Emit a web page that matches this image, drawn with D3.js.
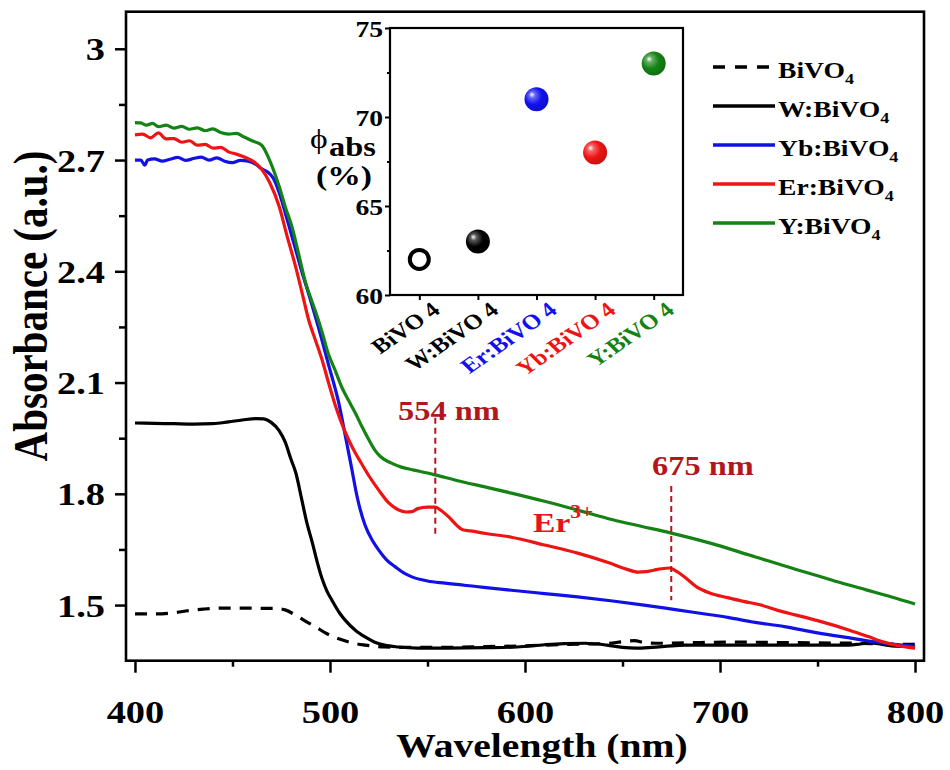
<!DOCTYPE html>
<html>
<head>
<meta charset="utf-8">
<script src="https://cdn.jsdelivr.net/npm/d3@7"></script>
<style>
  html, body { margin: 0; padding: 0; background: #fff; }
  svg { display: block; }
  text { font-family: "Liberation Serif", "Times New Roman", serif; font-weight: bold; fill: #000; }
</style>
</head>
<body>
<svg id="chart" width="950" height="770"></svg>
<script>
// ---------- UV-vis absorbance spectra: [wavelength (nm), absorbance (a.u.)] ----------
const absBiVO4 = [[400,1.476],[410,1.476],[418,1.478],[426,1.484],[435,1.489],[445,1.492],[455,1.492],[465,1.491],[472,1.491],[477,1.487],[482,1.474],[488,1.455],[493,1.440],[498,1.424],[503,1.412],[508,1.403],[513,1.396],[518,1.392],[528,1.387],[540,1.386],[560,1.386],[580,1.388],[600,1.390],[620,1.394],[640,1.396],[650,1.401],[656,1.404],[662,1.398],[670,1.397],[690,1.399],[710,1.400],[730,1.399],[750,1.398],[770,1.397],[785,1.395],[800,1.394]];

const absW = [[400,1.991],[410,1.990],[420,1.989],[430,1.988],[440,1.989],[448,1.994],[455,1.999],[462,2.003],[466,2.002],[470,1.992],[474,1.970],[477,1.940],[480,1.893],[482.5,1.856],[485.5,1.785],[488,1.725],[491,1.667],[493.5,1.615],[496,1.570],[498.5,1.537],[501,1.513],[505,1.478],[508,1.458],[513,1.432],[518,1.414],[523,1.400],[528,1.392],[535,1.387],[545,1.384],[560,1.384],[580,1.385],[596,1.387],[610,1.393],[620,1.396],[631,1.397],[642,1.392],[650,1.386],[657,1.384],[665,1.386],[675,1.390],[682,1.392],[700,1.392],[720,1.392],[745,1.392],[766,1.392],[772,1.395],[777,1.398],[783,1.394],[790,1.389],[800,1.388]];

const absYb = [[400,2.700],[403,2.700],[405,2.686],[406.5,2.700],[410,2.703],[414,2.697],[418,2.702],[422,2.707],[426,2.699],[430,2.704],[434,2.708],[438,2.700],[442,2.706],[446,2.697],[450,2.693],[454,2.699],[458,2.697],[462,2.688],[465,2.676],[468,2.668],[471,2.650],[474,2.611],[478,2.540],[482,2.466],[485.5,2.400],[489,2.340],[494,2.250],[499,2.153],[504.5,2.045],[508,1.953],[511,1.872],[514,1.790],[518,1.715],[522,1.672],[525,1.648],[529,1.622],[533.5,1.603],[538,1.586],[542,1.576],[550,1.565],[559,1.559],[575,1.550],[593,1.540],[610,1.531],[627,1.522],[645,1.511],[661,1.500],[678,1.487],[695,1.474],[704,1.467],[716,1.455],[733,1.442],[750,1.425],[767,1.411],[784,1.397],[792,1.393],[800,1.389]];

const absEr = [[400,2.768],[404,2.770],[408,2.760],[412,2.773],[416,2.757],[420,2.758],[424,2.748],[428,2.752],[432,2.740],[436,2.742],[440,2.732],[444,2.734],[448,2.722],[452,2.716],[457,2.706],[461,2.695],[465,2.675],[469,2.640],[474,2.574],[478,2.495],[482.5,2.410],[486,2.335],[489,2.270],[492.5,2.215],[496,2.160],[499.5,2.095],[503,2.034],[506,1.990],[509.6,1.945],[513,1.910],[516,1.883],[520,1.848],[525,1.810],[530,1.776],[535,1.757],[539,1.751],[542,1.752],[545,1.760],[550,1.764],[554,1.764],[557,1.755],[561,1.737],[565,1.715],[568,1.703],[572,1.700],[580,1.693],[593,1.683],[610,1.662],[627,1.640],[643,1.614],[652,1.597],[658,1.589],[662,1.590],[666,1.594],[670,1.598],[674,1.600],[678,1.590],[682,1.575],[688,1.549],[695,1.532],[704,1.520],[712,1.510],[721,1.500],[730,1.485],[739,1.473],[750,1.458],[766,1.433],[776,1.415],[784,1.400],[792,1.390],[800,1.384]];

const absY = [[400,2.801],[403,2.800],[406,2.794],[409,2.799],[412,2.790],[416,2.794],[420,2.786],[424,2.791],[428,2.783],[432,2.787],[436,2.779],[440,2.784],[444,2.774],[448,2.770],[452,2.772],[456,2.762],[460,2.752],[465,2.740],[469,2.700],[474,2.628],[477,2.575],[480.5,2.520],[484,2.445],[487.5,2.369],[490,2.330],[492.8,2.288],[496,2.235],[499,2.180],[502.5,2.135],[506,2.088],[509.5,2.052],[513,2.018],[516.5,1.980],[520,1.945],[523,1.918],[526,1.900],[531,1.884],[536.6,1.872],[543,1.864],[550,1.856],[554,1.851],[565,1.836],[580,1.818],[593,1.802],[610,1.780],[627,1.756],[645,1.730],[660,1.712],[675,1.694],[695,1.667],[715,1.635],[739,1.596],[750,1.579],[762,1.560],[775,1.541],[788,1.522],[800,1.503]];

const seriesNames  = ["BiVO4", "W:BiVO4", "Yb:BiVO4", "Er:BiVO4", "Y:BiVO4"];
const seriesData   = [absBiVO4, absW, absYb, absEr, absY];
const seriesColors = ["#000000", "#000000", "#1111e6", "#ee1414", "#148214"];
const seriesDashed = [true, false, false, false, false];
const drawOrder    = [1, 0, 2, 3, 4];

const xTicks = [400, 500, 600, 700, 800];
const xMinorTicks = [450, 550, 650, 750];
const yTicks = [1.5, 1.8, 2.1, 2.4, 2.7, 3.0];
const yMinorTicks = [1.65, 1.95, 2.25, 2.55, 2.85];

// Er3+ absorption peak markers: wavelength, label, dashed line extent (absorbance)
const peakWavelengths = [554, 675];
const peakLabels = ["554 nm", "675 nm"];
const peakLineTop = [2.005, 1.821];
const peakLineBottom = [1.689, 1.513];

// ---------- inset: absorbed photon fraction ----------
const insetCategories = ["BiVO4", "W:BiVO4", "Er:BiVO4", "Yb:BiVO4", "Y:BiVO4"];
const phiAbs = [62, 63, 71, 68, 73];
const insetColors = ["#000000", "#000000", "#1111f0", "#ee1414", "#148214"];
const insetHollow = [true, false, false, false, false];
const insetYTicks = [60, 65, 70, 75];
const insetYMinor = [62.5, 67.5, 72.5];

// ---------- layout ----------
const SX = 1.2; // horizontal glyph stretch used for all labels
const svg = d3.select("#chart");
const plot = { left: 126, right: 924, top: 11.7, bottom: 660.7 };
const inset = { left: 390, right: 683, top: 28, bottom: 295 };

const x = d3.scaleLinear().domain([395.4, 804.6]).range([plot.left, plot.right]);
const y = d3.scaleLinear().domain([1.35, 3.1]).range([plot.bottom, plot.top]);

function place(sel, px, py, rot) {
  sel.attr("transform", `translate(${px},${py}) scale(${SX},1)` + (rot ? ` rotate(${rot})` : ""));
  return sel;
}

// clip for the spectra
svg.append("defs").append("clipPath").attr("id", "plotClip")
  .append("rect").attr("x", plot.left).attr("y", plot.top)
  .attr("width", plot.right - plot.left).attr("height", plot.bottom - plot.top);

// ---------- spectra ----------
const line = d3.line().x(d => x(d[0])).y(d => y(d[1])).curve(d3.curveMonotoneX);
const curves = svg.append("g").attr("clip-path", "url(#plotClip)");
drawOrder.forEach(i => {
  curves.append("path")
    .datum(seriesData[i])
    .attr("d", line)
    .attr("fill", "none")
    .attr("stroke", seriesColors[i])
    .attr("stroke-width", 3.2)
    .attr("stroke-linejoin", "round")
    .attr("stroke-dasharray", seriesDashed[i] ? "12,9" : null);
});

// ---------- axes ----------
const xAxis = svg.append("g").attr("transform", `translate(0,${plot.bottom})`)
  .call(d3.axisBottom(x).tickValues(xTicks).tickSize(12).tickFormat(d3.format("d")));
xAxis.select(".domain").remove();
xAxis.selectAll(".tick line").attr("stroke", "#000").attr("stroke-width", 2.5);
xAxis.selectAll(".tick text").each(function () {
  const t = d3.select(this);
  t.attr("x", 0).attr("y", 0).attr("dy", null)
    .attr("text-anchor", "middle").attr("font-size", 32).attr("fill", "#000");
  place(t, 0, 62);
});
const xMinor = svg.append("g").attr("transform", `translate(0,${plot.bottom})`)
  .call(d3.axisBottom(x).tickValues(xMinorTicks).tickSize(6).tickFormat(""));
xMinor.select(".domain").remove();
xMinor.selectAll(".tick line").attr("stroke", "#000").attr("stroke-width", 2.5);

const yAxis = svg.append("g").attr("transform", `translate(${plot.left},0)`)
  .call(d3.axisLeft(y).tickValues(yTicks).tickSize(11).tickFormat(d => d === 3 ? "3" : d.toFixed(1)));
yAxis.select(".domain").remove();
yAxis.selectAll(".tick line").attr("stroke", "#000").attr("stroke-width", 2.5);
yAxis.selectAll(".tick text").each(function () {
  const t = d3.select(this);
  t.attr("x", 0).attr("y", 0).attr("dy", null)
    .attr("text-anchor", "end").attr("font-size", 32).attr("fill", "#000");
  place(t, -21, 11);
});
const yMinor = svg.append("g").attr("transform", `translate(${plot.left},0)`)
  .call(d3.axisLeft(y).tickValues(yMinorTicks).tickSize(7).tickFormat(""));
yMinor.select(".domain").remove();
yMinor.selectAll(".tick line").attr("stroke", "#000").attr("stroke-width", 2.5);

// frame
svg.append("rect")
  .attr("x", plot.left).attr("y", plot.top)
  .attr("width", plot.right - plot.left).attr("height", plot.bottom - plot.top)
  .attr("fill", "none").attr("stroke", "#000").attr("stroke-width", 2.6);

// axis titles
place(svg.append("text").attr("text-anchor", "middle").attr("font-size", 33)
  .text("Wavelength (nm)"), 542, 757);
place(svg.append("text").attr("text-anchor", "middle").attr("font-size", 41)
  .text("Absorbance (a.u.)"), 47, 306, -90);

// ---------- peak annotations ----------
const annoColor = "#b3161c";
peakWavelengths.forEach((wl, i) => {
  svg.append("line")
    .attr("x1", x(wl)).attr("x2", x(wl))
    .attr("y1", y(peakLineTop[i])).attr("y2", y(peakLineBottom[i]))
    .attr("stroke", annoColor).attr("stroke-width", 2)
    .attr("stroke-dasharray", "6,4");
});
place(svg.append("text").attr("font-size", 27)
  .style("fill", annoColor).text(peakLabels[0]), 398, 420);
place(svg.append("text").attr("font-size", 27)
  .style("fill", annoColor).text(peakLabels[1]), 652, 475);

const erLabel = svg.append("text").attr("font-size", 28).style("fill", "#e8131a");
erLabel.append("tspan").text("Er");
erLabel.append("tspan").attr("font-size", 18).attr("dy", -14).text("3+");
place(erLabel, 533, 532);

// ---------- legend ----------
const legendY0 = 67, legendStep = 39;
seriesNames.forEach((name, i) => {
  const ly = legendY0 + i * legendStep;
  svg.append("line")
    .attr("x1", 713).attr("x2", 775).attr("y1", ly).attr("y2", ly)
    .attr("stroke", seriesColors[i]).attr("stroke-width", 3.4)
    .attr("stroke-dasharray", seriesDashed[i] ? "12,10" : null);
  const t = svg.append("text").attr("font-size", 23);
  t.append("tspan").text(name.slice(0, -1));
  t.append("tspan").attr("font-size", 15).attr("dy", 6).text(name.slice(-1));
  place(t, 778, ly + 11);
});

// ---------- inset ----------
const xi = d3.scalePoint().domain(insetCategories).range([inset.left, inset.right]).padding(0.5);
const yi = d3.scaleLinear().domain([60, 75]).range([inset.bottom, inset.top]);

const defs = svg.select("defs");
insetColors.forEach((c, i) => {
  const g = defs.append("radialGradient").attr("id", "ball" + i)
    .attr("cx", "40%").attr("cy", "40%").attr("r", "60%").attr("fx", "30%").attr("fy", "30%");
  g.append("stop").attr("offset", "0%").attr("stop-color", "#ffffff");
  g.append("stop").attr("offset", "22%").attr("stop-color", d3.interpolateRgb(c, "#ffffff")(0.35));
  g.append("stop").attr("offset", "60%").attr("stop-color", c);
  g.append("stop").attr("offset", "100%").attr("stop-color", d3.interpolateRgb(c, "#000000")(0.15));
});

const iy = svg.append("g").attr("transform", `translate(${inset.left},0)`)
  .call(d3.axisLeft(yi).tickValues(insetYTicks).tickSize(5).tickFormat(d3.format("d")));
iy.select(".domain").remove();
iy.selectAll(".tick line").attr("stroke", "#000").attr("stroke-width", 2);
iy.selectAll(".tick text").each(function () {
  const t = d3.select(this);
  t.attr("x", 0).attr("y", 0).attr("dy", null)
    .attr("text-anchor", "end").attr("font-size", 23).attr("fill", "#000");
  place(t, -7, 8);
});
const iyMinor = svg.append("g").attr("transform", `translate(${inset.left},0)`)
  .call(d3.axisLeft(yi).tickValues(insetYMinor).tickSize(3).tickFormat(""));
iyMinor.select(".domain").remove();
iyMinor.selectAll(".tick line").attr("stroke", "#000").attr("stroke-width", 2);

const ix = svg.append("g").attr("transform", `translate(0,${inset.bottom})`)
  .call(d3.axisBottom(xi).tickSize(5).tickFormat(""));
ix.select(".domain").remove();
ix.selectAll(".tick line").attr("stroke", "#000").attr("stroke-width", 2);
insetCategories.forEach((name, i) => {
  const t = svg.append("text").attr("font-size", 21).attr("text-anchor", "end")
    .style("fill", insetColors[i]);
  t.append("tspan").text(name.slice(0, -1));
  t.append("tspan").attr("dx", 5).text(name.slice(-1));
  place(t, xi(name) + 22, inset.bottom + 17, -40);
});

svg.append("rect")
  .attr("x", inset.left).attr("y", inset.top)
  .attr("width", inset.right - inset.left).attr("height", inset.bottom - inset.top)
  .attr("fill", "none").attr("stroke", "#000").attr("stroke-width", 2.2);

insetCategories.forEach((name, i) => {
  const c = svg.append("circle").attr("cx", xi(name)).attr("cy", yi(phiAbs[i]));
  if (insetHollow[i]) {
    c.attr("r", 9.5).attr("fill", "#fff").attr("stroke", insetColors[i]).attr("stroke-width", 4);
  } else {
    c.attr("r", 12).attr("fill", `url(#ball${i})`);
  }
});

// inset y title: phi_abs (%)
place(svg.append("text").attr("font-size", 28)
  .style("font-weight", "normal").text("\u03D5"), 310, 148);
place(svg.append("text").attr("font-size", 27).text("abs"), 329, 156);
place(svg.append("text").attr("font-size", 28).attr("text-anchor", "middle").text("(%)"), 344, 185);
</script>
</body>
</html>
